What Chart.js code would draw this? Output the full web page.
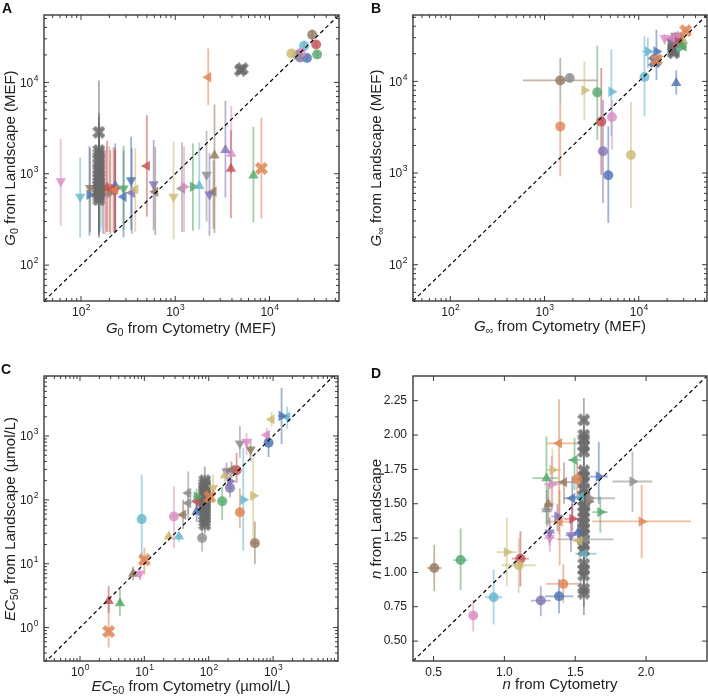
<!DOCTYPE html>
<html><head><meta charset="utf-8">
<script src="https://cdn.jsdelivr.net/npm/chart.js@4/dist/chart.umd.min.js"></script>
<style>
body{margin:0;background:#fff;font-family:"Liberation Sans",Arial,sans-serif;color:#222;}
#wrap{position:relative;width:708px;height:696px;overflow:hidden;}
.pane{position:absolute;width:354px;height:348px;}
.lbl{position:absolute;font-weight:bold;font-size:14px;color:#111;line-height:14px;}
.tt{position:absolute;font-size:15px;white-space:nowrap;line-height:16px;transform:translate(-50%,-50%);}
.tt.v{transform:translate(-50%,-50%) rotate(-90deg);}
sub{font-size:0.72em;vertical-align:-0.28em;line-height:0;}
</style>
</head><body>
<div id="wrap">
  <div class="pane" style="left:0;top:0"><canvas id="cA" width="354" height="348"></canvas></div>
  <div class="pane" style="left:354px;top:0"><canvas id="cB" width="354" height="348"></canvas></div>
  <div class="pane" style="left:0;top:348px"><canvas id="cC" width="354" height="348"></canvas></div>
  <div class="pane" style="left:354px;top:348px"><canvas id="cD" width="354" height="348"></canvas></div>

  <div class="lbl" style="left:2px;top:1px">A</div>
  <div class="lbl" style="left:371px;top:1px">B</div>
  <div class="lbl" style="left:1px;top:362px">C</div>
  <div class="lbl" style="left:371px;top:366px">D</div>

  <div class="tt" style="left:191px;top:328px"><i>G</i><sub>0</sub> from Cytometry (MEF)</div>
  <div class="tt v" style="left:10px;top:158px"><i>G</i><sub>0</sub> from Landscape (MEF)</div>
  <div class="tt" style="left:560px;top:326px"><i>G</i><sub>∞</sub> from Cytometry (MEF)</div>
  <div class="tt v" style="left:376px;top:158px"><i>G</i><sub>∞</sub> from Landscape (MEF)</div>
  <div class="tt" style="left:191px;top:686px"><i>EC</i><sub>50</sub> from Cytometry (µmol/L)</div>
  <div class="tt v" style="left:10px;top:519px"><i>EC</i><sub>50</sub> from Landscape (µmol/L)</div>
  <div class="tt" style="left:560px;top:684px"><i>n</i> from Cytometry</div>
  <div class="tt v" style="left:376px;top:519px"><i>n</i> from Landscape</div>
</div>
<script>
// marker code: shape + colour index; rows: [code, cytometry, landscape, xLo, xHi, yLo, yHi]
const palette=['#4C72B0','#DD8452','#55A868','#C44E52','#8172B3','#937860','#DA8BC3','#8C8C8C','#CCB974','#64B5CD'];

const g0Rows=[
  ['o8',17100,20700,null,null,18500,23000],['o7',19800,19900,null,null,18000,22000],
  ['o6',21500,21100,null,null,19000,23500],['o4',21100,18700,null,null,17000,20500],
  ['o9',23300,25100,null,null,22000,29000],['o0',25000,18500,null,null,17000,20000],
  ['o5',28400,33200,null,null,29000,38000],['o3',31300,26000,null,null,24000,28500],
  ['o2',32100,20200,null,null,18500,22000],
  ['<1',2240,11400,null,null,5650,23500],['X7',4900,13600,null,null,12500,15000],['X7',5150,14100,null,null,13000,15300],
  ['^4',3410,1820,null,null,550,6300],['^6',3930,1660,null,null,1000,5540],['^3',3900,1135,null,null,325,3000],
  ['^5',2610,1590,null,null,225,5740],['v7',2150,975,null,null,300,2950],['v4',2310,595,null,null,210,1680],
  ['<5',2550,635,null,null,250,1400],['^2',6760,960,null,null,294,3270],['X1',8220,1145,null,null,325,4100],
  ['^9',1800,733,null,null,247,2210],['>2',1540,720,null,null,238,2150],['>6',1240,720,null,null,230,2000],
  ['<7',1180,690,null,null,230,2200],['v8',960,560,null,null,192,2240],['<5',614,636,null,null,214,1970],
  ['v4',590,766,null,null,242,2340],['<3',500,1220,null,null,340,4390],['<8',377,675,null,null,232,1900],
  ['<4',347,620,null,null,220,1900],['v0',340,847,null,null,242,2540],['<0',283,560,null,null,202,1800],
  ['v2',283,690,null,null,242,2020],['<1',231,663,null,null,240,1900],['>3',222,685,null,null,230,1950],
  ['^0',231,740,null,null,230,2150],['>5',205,620,null,null,220,1800],['^3',189,703,null,null,230,2300],
  ['>1',181,648,null,null,220,1800],['<6',185,700,null,null,240,1900],['v3',230,650,null,null,230,1800],
  ['>4',172,600,null,null,220,1800],['>8',165,760,null,null,260,1900],['v5',125,700,null,null,230,1900],
  ['>0',123,590,null,null,210,2000],['v9',98,560,null,null,200,1500],['v6',61,830,null,null,270,2400],
  ['X7',155,520,null,null,200,1400],['X7',155,560,null,null,210,1500],['X7',155,600,null,null,220,1600],
  ['X7',155,640,null,null,230,1700],['X7',155,690,null,null,240,1800],['X7',155,740,null,null,250,1900],
  ['X7',155,800,null,null,280,2000],['X7',155,870,null,null,300,2200],['X7',155,950,null,null,330,2400],
  ['X7',155,1050,null,null,360,2700],['X7',155,1150,null,null,400,3000],['X7',155,1300,null,null,450,3300],
  ['X7',155,1450,null,null,500,3700],['X7',155,1650,null,null,560,4200],['X7',155,1800,null,null,600,4600],
  ['X7',155,2850,null,null,1000,10500],
  ['>9',160,720,null,null,230,2000],['>1',200,690,null,null,230,2000]
];

const ginfRows=[
  ['o5',1470,10250,592,3600,5800,18000],['o7',1850,10900,1750,1950,9800,12000],
  ['>8',2650,7980,null,null,3820,16500],['o2',3630,7590,null,null,2310,24500],
  ['>9',5120,7720,null,null,2510,22500],['o1',1470,3230,null,null,920,5800],
  ['o3',4000,3640,null,null,960,14000],['o6',5200,4090,null,null,1800,6300],
  ['o4',4170,1730,null,null,470,6300],['o0',4750,945,null,null,285,3230],
  ['o8',8260,1575,null,null,415,5970],['o9',11500,11170,null,null,4150,31000],
  ['^0',25000,9620,null,null,7160,13200],
  ['>9',12500,21200,10900,16700,14000,29800],['>0',15400,21200,null,null,10400,36600],
  ['X1',15400,17300,14500,16500,15500,19000],['X0',14800,16500,14000,15600,15000,18000],
  ['v6',18800,29800,null,null,25000,33000],['X1',31500,35700,29000,34000,32000,40000],
  ['<6',22500,30000,null,null,27000,33000],['^2',28500,25000,null,null,22000,28000],
  ['<3',27000,27500,null,null,25000,30000],['v4',25500,27000,null,null,24000,30000],
  ['>5',24000,28500,null,null,26000,31000],['<8',29000,29000,null,null,26000,32000],
  ['^6',26000,31000,null,null,28000,34000],['v1',27500,26000,null,null,23500,29000],
  ['>3',25000,25500,null,null,23000,28000],['<2',30000,24000,null,null,22000,26500],
  ['^8',29500,27500,null,null,25000,30000],['v9',26500,24000,null,null,22000,26500],
  ['<4',22000,28500,null,null,26000,31000],['>2',27000,23000,null,null,21000,25500],
  ['v5',24500,31500,null,null,28500,34500],['^4',28000,30000,null,null,27000,33000],
  ['>6',26000,29000,null,null,26500,32000],['<5',24000,26000,null,null,23500,28500],
  ['X7',23500,20500,null,null,19000,22000],['X7',23500,21500,null,null,20000,23000],
  ['X7',23500,22500,null,null,21000,24000],['X7',23500,23500,null,null,22000,25000],
  ['X7',23500,24500,null,null,23000,26000],['X7',23500,26000,null,null,24500,27500]
];

const ec50Rows=[
  ['o9',9.1,50,null,null,10,248],['o6',28.8,55,26,32,17.7,163],['^8',24,26.8,21,27,22,31],
  ['^9',34.5,26.8,30,39,22,31],['<5',40,58.6,34,46,35,100],['<7',48,128,42,54,60,279],
  ['<7',48,89,42,54,50,150],['>2',65,113,58,72,80,150],['<3',65,95,57,73,70,125],
  ['^0',65,66,58,72,45,120],['X1',104,111,90,120,90,135],['o7',79,25.3,70,88,15.6,48],
  ['o2',162,95,150,175,48,162],['v8',117,154,105,130,100,250],['o1',305,64,280,330,36,150],
  ['>9',344,100,320,370,16,655],['>8',492,116,440,550,20,450],['o5',521,21,460,590,9.8,46],
  ['o3',271,290,240,300,184,542],['v4',190,279,170,210,200,380],['>4',214,195,195,235,140,270],
  ['o4',214,154,195,235,110,210],['<5',226,297,200,250,220,400],['^8',178,240,160,195,170,330],
  ['v6',387,815,350,420,500,1100],['v7',305,765,280,330,457,1430],['v5',447,617,410,490,400,900],
  ['o0',850,785,780,920,470,1200],['<6',795,1040,730,870,800,1350],['<8',950,1820,880,1030,1400,2400],
  ['>0',1355,2055,1200,1500,740,5700],['<9',1660,1980,1500,1800,1300,2900],
  ['^3',2.79,2.62,2.6,3.0,1.7,4.5],['^2',4.18,2.4,3.9,4.5,1.5,4.0],['X1',2.79,0.87,2.6,3.0,0.49,2.3],
  ['^5',6.7,7.0,6.0,7.4,5.5,9.0],['v6',8.5,7.0,7.7,9.3,5.5,9.0],['X1',10,11.5,9.0,11.2,6.8,18],
  ['X7',87,41,80,95,30,55],['X7',87,46,80,95,33,62],['X7',87,52,80,95,38,70],['X7',87,58,80,95,42,78],
  ['X7',87,65,80,95,47,88],['X7',87,72,80,95,52,98],['X7',87,80,80,95,58,108],['X7',87,88,80,95,64,120],
  ['X7',87,96,80,95,70,130],['X7',87,105,80,95,76,142],['X7',87,115,80,95,84,156],['X7',87,125,80,95,91,170],
  ['X7',87,138,80,95,100,187],['X7',87,150,80,95,110,205],['X7',87,165,80,95,120,225],
  ['X7',87,180,80,95,131,250],['X7',87,200,80,95,146,334]
];

const nRows=[
  ['o5',0.505,1.032,0.455,0.555,0.863,1.201],['o2',0.691,1.09,0.64,0.74,0.87,1.32],
  ['o6',0.78,0.686,0.75,0.81,0.57,0.8],['o9',0.924,0.819,0.864,0.984,0.62,1.02],
  ['>8',1.017,1.148,0.947,1.087,0.9,1.4],['o8',1.101,1.052,0.98,1.22,0.85,1.25],
  ['o3',1.113,1.10,1.053,1.173,0.9,1.3],['o4',1.257,0.795,1.187,1.327,0.68,0.9],
  ['o0',1.386,0.826,1.286,1.486,0.7,0.95],['o1',1.416,0.916,1.296,1.536,0.78,1.06],
  ['>7',1.904,1.662,1.764,2.044,1.44,1.88],['>1',1.969,1.371,1.619,2.318,1.105,1.637],
  ['<1',1.386,1.94,1.3,1.55,1.28,2.26],['<2',1.495,1.819,1.45,1.54,1.6,1.98],
  ['^2',1.297,1.686,1.2,1.38,1.35,1.99],['>8',1.339,1.746,1.3,1.4,1.5,1.9],
  ['>6',1.334,1.642,1.28,1.4,1.45,1.85],['<5',1.421,1.657,1.35,1.5,1.5,1.8],
  ['o1',1.514,1.679,1.48,1.55,1.55,1.8],['>0',1.666,1.698,1.6,1.73,1.5,1.95],
  ['<0',1.479,1.54,1.42,1.54,1.37,1.7],['<9',1.54,1.55,1.48,1.6,1.45,1.65],
  ['^5',1.311,1.497,1.28,1.35,1.35,1.65],['^7',1.30,1.46,1.26,1.34,1.33,1.6],
  ['>4',1.374,1.408,1.33,1.42,1.3,1.5],['>3',1.479,1.39,1.42,1.54,1.3,1.5],
  ['<1',1.39,1.37,1.3,1.48,1.05,1.6],['>2',1.677,1.439,1.62,1.73,1.29,1.55],
  ['>5',1.596,1.517,1.56,1.63,1.45,1.6],['v4',1.32,1.29,1.28,1.36,1.2,1.4],
  ['v6',1.32,1.25,1.28,1.36,1.15,1.35],['v4',1.47,1.27,1.43,1.51,1.15,1.4],
  ['^0',1.52,1.29,1.48,1.56,1.2,1.4],['<8',1.53,1.23,1.48,1.58,1.1,1.38],
  ['<7',1.57,1.24,1.37,1.77,1.2,1.28],['<9',1.561,1.136,1.5,1.65,1.05,1.25],
  ['>7',1.6,1.54,1.55,1.78,1.45,1.62],
  ['X7',1.561,0.85,1.54,1.58,0.69,0.95],['X7',1.561,0.88,1.54,1.58,0.75,1.0],['X7',1.561,0.98,1.54,1.58,0.85,1.1],
  ['X7',1.561,1.02,1.54,1.58,0.9,1.12],['X7',1.561,1.06,1.54,1.58,0.95,1.17],['X7',1.561,1.16,1.54,1.58,1.05,1.27],
  ['X7',1.561,1.2,1.54,1.58,1.1,1.3],['X7',1.561,1.24,1.54,1.58,1.14,1.34],['X7',1.561,1.28,1.54,1.58,1.18,1.38],
  ['X7',1.561,1.32,1.54,1.58,1.22,1.42],['X7',1.561,1.36,1.54,1.58,1.26,1.46],['X7',1.561,1.4,1.54,1.58,1.3,1.5],
  ['X7',1.561,1.44,1.54,1.58,1.34,1.54],['X7',1.561,1.48,1.54,1.58,1.38,1.58],['X7',1.561,1.52,1.54,1.58,1.42,1.62],
  ['X7',1.561,1.56,1.54,1.58,1.46,1.66],['X7',1.561,1.6,1.54,1.58,1.5,1.7],['X7',1.561,1.66,1.54,1.58,1.56,1.76],
  ['X7',1.561,1.7,1.54,1.58,1.6,1.8],['X7',1.561,1.74,1.54,1.58,1.64,1.85],['X7',1.561,1.88,1.54,1.58,1.78,1.98],
  ['X7',1.561,1.92,1.54,1.58,1.82,2.02],['X7',1.561,1.97,1.54,1.58,1.87,2.07],['X7',1.561,2.0,1.54,1.58,1.9,2.1],
  ['X7',1.561,2.11,1.54,1.58,1.98,2.27]
];

// axis limits and tick labels
const g0Range=[40.5,54700], ginfRange=[40.2,53000];
const ec50XRange=[0.276,10200], ec50YRange=[0.30,8700];
const nRange=[0.355,2.43];
const gTickExp=[2,3,4], ecTickExp=[0,1,2,3];
const nTickX=[0.5,1.0,1.5,2.0], nTickY=[0.5,0.75,1.0,1.25,1.5,1.75,2.0,2.25];

function rgba(hex,a){
  const n=parseInt(hex.slice(1),16);
  return `rgba(${n>>16},${(n>>8)&255},${n&255},${a})`;
}

// filled "X" marker as an image (the grey reference group is drawn a bit darker)
function xMarker(col){
  const c=document.createElement('canvas'); c.width=13; c.height=13;
  const g=c.getContext('2d'); const s=13, h=s/2, q=s/4;
  const pts=[[-q,-h],[0,-q],[q,-h],[h,-q],[q,0],[h,q],[q,h],[0,q],[-q,h],[-h,q],[-q,0],[-h,-q]];
  g.beginPath(); pts.forEach((p,i)=>{ i?g.lineTo(h+p[0],h+p[1]):g.moveTo(h+p[0],h+p[1]); });
  g.closePath(); g.fillStyle=rgba(col,0.85); g.fill();
  return c;
}

const shapes={'o':['circle',0,5],'^':['triangle',0,6],'v':['triangle',180,6],'<':['triangle',270,6],'>':['triangle',90,6]};

function buildSets(rows){
  const groups={};
  rows.forEach(r=>{ (groups[r[0]]=groups[r[0]]||[]).push({x:r[1],y:r[2],xlo:r[3],xhi:r[4],ylo:r[5],yhi:r[6]}); });
  return Object.keys(groups).map(code=>{
    let col=palette[+code.slice(1)]; const m=code[0];
    if(code==='X7') col='#6a6a6a';
    const ds={type:'scatter',data:groups[code],errColor:rgba(col,0.55),
      backgroundColor:rgba(col,0.8),borderWidth:0,pointBorderWidth:0};
    if(m==='X'){ ds.pointStyle=xMarker(col); ds.pointRadius=6.5; }
    else { ds.pointStyle=shapes[m][0]; ds.rotation=shapes[m][1]; ds.pointRadius=shapes[m][2]; }
    return ds;
  });
}

const errorBars={
  id:'errorBars',
  beforeDatasetsDraw(chart){
    const {ctx,chartArea:a,scales:{x,y}}=chart;
    ctx.save(); ctx.beginPath(); ctx.rect(a.left,a.top,a.right-a.left,a.bottom-a.top); ctx.clip();
    ctx.lineWidth=1.8;
    chart.data.datasets.forEach(ds=>{
      if(!ds.errColor) return;
      ctx.strokeStyle=ds.errColor;
      ds.data.forEach(p=>{
        const px=x.getPixelForValue(p.x), py=y.getPixelForValue(p.y);
        ctx.beginPath();
        if(p.ylo!=null){ ctx.moveTo(px,y.getPixelForValue(p.ylo)); ctx.lineTo(px,y.getPixelForValue(p.yhi)); }
        if(p.xlo!=null){ ctx.moveTo(x.getPixelForValue(p.xlo),py); ctx.lineTo(x.getPixelForValue(p.xhi),py); }
        ctx.stroke();
      });
    });
    ctx.restore();
  }
};

// frame with inward ticks on all sides, plus tick labels
const frame={
  id:'frame',
  afterDraw(chart,args,o){
    const {ctx,chartArea:a,scales:{x,y}}=chart;
    ctx.save();
    ctx.strokeStyle='#3a3a3a'; ctx.lineWidth=1;
    const ticks=(sc,vals,len,horiz)=>{
      vals.forEach(v=>{
        const p=sc.getPixelForValue(v);
        if(horiz){ if(p<a.left-0.5||p>a.right+0.5) return;
          ctx.moveTo(p,a.bottom); ctx.lineTo(p,a.bottom-len); ctx.moveTo(p,a.top); ctx.lineTo(p,a.top+len); }
        else { if(p<a.top-0.5||p>a.bottom+0.5) return;
          ctx.moveTo(a.left,p); ctx.lineTo(a.left+len,p); ctx.moveTo(a.right,p); ctx.lineTo(a.right-len,p); }
      });
    };
    const logMinor=sc=>{
      const out=[];
      for(let d=Math.floor(Math.log10(sc.min));d<=Math.ceil(Math.log10(sc.max));d++)
        for(let k=2;k<=9;k++) out.push(k*Math.pow(10,d));
      return out;
    };
    ctx.beginPath();
    const xMaj=o.log?o.xExp.map(e=>Math.pow(10,e)):o.xTicks;
    const yMaj=o.log?o.yExp.map(e=>Math.pow(10,e)):o.yTicks;
    ticks(x,xMaj,5,true); ticks(y,yMaj,5,false);
    if(o.log){ ticks(x,logMinor(x),3,true); ticks(y,logMinor(y),3,false); }
    ctx.stroke();
    ctx.lineWidth=1.4;
    ctx.strokeRect(a.left,a.top,a.right-a.left,a.bottom-a.top);

    ctx.fillStyle='#222';
    const big='12px "Liberation Sans", Arial, sans-serif', small='8.5px "Liberation Sans", Arial, sans-serif';
    if(o.log){
      const lab=(e,cx,cy,align)=>{
        ctx.font=big; const w1=ctx.measureText('10').width;
        ctx.font=small; const w2=ctx.measureText(String(e)).width;
        const sx=align==='center'?cx-(w1+w2)/2:cx-(w1+w2);
        ctx.textAlign='left'; ctx.textBaseline='middle';
        ctx.font=big; ctx.fillText('10',sx,cy);
        ctx.font=small; ctx.fillText(String(e),sx+w1+0.5,cy-5);
      };
      o.xExp.forEach(e=>lab(e,x.getPixelForValue(Math.pow(10,e)),a.bottom+12,'center'));
      o.yExp.forEach(e=>lab(e,a.left-6,y.getPixelForValue(Math.pow(10,e))+1,'right'));
    } else {
      ctx.font=big; ctx.textBaseline='middle';
      ctx.textAlign='center';
      o.xTicks.forEach(v=>ctx.fillText(v.toFixed(1),x.getPixelForValue(v),a.bottom+12));
      ctx.textAlign='right';
      o.yTicks.forEach(v=>ctx.fillText(v.toFixed(2),a.left-6,y.getPixelForValue(v)));
    }
    ctx.restore();
  }
};

function makePanel(id,rows,type,xr,yr,pad,frameOpts){
  const diag={type:'line',data:[{x:Math.min(xr[0],yr[0]),y:Math.min(xr[0],yr[0])},{x:Math.max(xr[1],yr[1]),y:Math.max(xr[1],yr[1])}],
    borderColor:'#000',borderWidth:1.2,borderDash:[4,3],pointRadius:0,order:-1,fill:false};
  new Chart(document.getElementById(id),{
    type:'scatter',
    data:{datasets:[diag].concat(buildSets(rows))},
    options:{
      responsive:false,animation:false,events:[],
      layout:{padding:pad,autoPadding:false},
      scales:{
        x:{type:type,min:xr[0],max:xr[1],display:false},
        y:{type:type,min:yr[0],max:yr[1],display:false}
      },
      plugins:{legend:{display:false},tooltip:{enabled:false},frame:frameOpts}
    },
    plugins:[errorBars,frame]
  });
}

makePanel('cA',g0Rows,'logarithmic',g0Range,g0Range,{left:44,right:15,top:15,bottom:47},{log:true,xExp:gTickExp,yExp:gTickExp});
makePanel('cB',ginfRows,'logarithmic',ginfRange,ginfRange,{left:59,right:1,top:15,bottom:47},{log:true,xExp:gTickExp,yExp:gTickExp});
makePanel('cC',ec50Rows,'logarithmic',ec50XRange,ec50YRange,{left:44,right:16,top:28,bottom:35},{log:true,xExp:ecTickExp,yExp:ecTickExp});
makePanel('cD',nRows,'linear',nRange,nRange,{left:59,right:1,top:28,bottom:35},{log:false,xTicks:nTickX,yTicks:nTickY});
</script>
</body></html>
